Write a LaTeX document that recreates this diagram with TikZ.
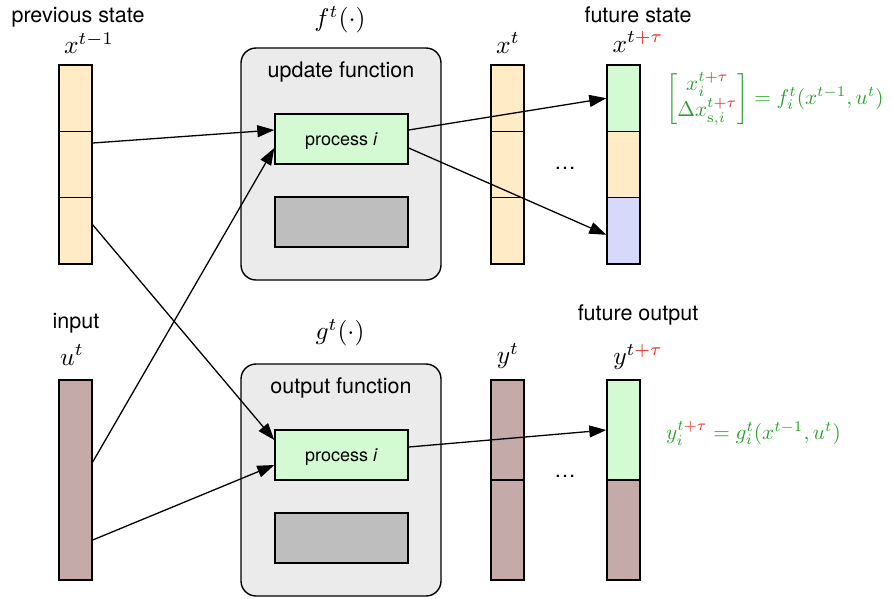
\documentclass[tikz,border=0pt]{standalone}
\usepackage{amsmath}
\usepackage[no-math]{fontspec}
\newfontfamily\hv{TeX Gyre Heros}
\usetikzlibrary{arrows.meta,calc}
\definecolor{corange}{HTML}{FFEBC6}
\definecolor{cgreen}{HTML}{D3FAD3}
\definecolor{cblue}{HTML}{D7D9FA}
\definecolor{cbrown}{HTML}{C4AAA9}
\definecolor{cpanel}{HTML}{EBEBEB}
\definecolor{cgray}{HTML}{BEBEBE}
\definecolor{tgreen}{HTML}{2CA02C}
\definecolor{tred}{HTML}{E8281E}
\newcommand{\rt}{{\color{tred}+\tau}}
\newcommand{\bigmath}[1]{\scalebox{2.55}{\normalsize$#1$}}
\newcommand{\eqmath}[1]{\scalebox{2.12}{\normalsize$#1$}}
\tikzset{
  cell/.style={draw, line width=1.4pt, minimum width=33pt, inner sep=0pt},
  panel/.style={draw, line width=1.4pt, fill=cpanel, rounded corners=15pt, minimum width=200pt, minimum height=232pt, inner sep=0pt},
  procbox/.style={draw, line width=1.4pt, fill=cgreen, minimum width=133pt, minimum height=50pt, inner sep=0pt, text depth=0pt, font=\hv\fontsize{18}{20}\selectfont},
  graybox/.style={draw, line width=1.4pt, fill=cgray, minimum width=133pt, minimum height=50pt, inner sep=0pt},
  lbl/.style={font=\hv\fontsize{21.5}{24}\selectfont, inner sep=0pt},
  mlbl/.style={inner sep=0pt},
  flow/.style={line width=1.3pt, -{Triangle[length=17pt,width=12pt]}},
  eq/.style={text=tgreen, inner sep=0pt}
}
\begin{document}
\begin{tikzpicture}[x=1pt,y=-1pt]
\useasboundingbox (0,0) rectangle (891,598);
% panels
\node[panel] (upd) at (341,164) {};
\node[panel] (out) at (341,480) {};
\node[lbl] (updl) at (341,72) {update function};
\node[lbl] (outl) at (341,388) {output function};
\node[procbox] (p1) at (341.5,139) {process \textit{i}};
\node[graybox] (g1) at (341.5,222) {};
\node[procbox] (p2) at (341.5,455) {process \textit{i}};
\node[graybox] (g2) at (341.5,538) {};
% previous state column
\node[cell, fill=corange, minimum height=66.33pt] (a1) at (75.5,98.2) {};
\node[cell, fill=corange, minimum height=66.33pt] (a2) at (75.5,164.5) {};
\node[cell, fill=corange, minimum height=66.33pt] (a3) at (75.5,230.8) {};
% x^t column
\node[cell, fill=corange, minimum height=66.33pt] (b1) at (507.5,98.2) {};
\node[cell, fill=corange, minimum height=66.33pt] (b2) at (507.5,164.5) {};
\node[cell, fill=corange, minimum height=66.33pt] (b3) at (507.5,230.8) {};
% future state column
\node[cell, fill=cgreen, minimum height=66.33pt] (c1) at (623.5,98.2) {};
\node[cell, fill=corange, minimum height=66.33pt] (c2) at (623.5,164.5) {};
\node[cell, fill=cblue, minimum height=66.33pt] (c3) at (623.5,230.8) {};
% input column
\node[cell, fill=cbrown, minimum height=200pt] (u) at (75.5,480) {};
% y^t column
\node[cell, fill=cbrown, minimum height=100pt] (d1) at (507.5,430) {};
\node[cell, fill=cbrown, minimum height=100pt] (d2) at (507.5,530) {};
% y future column
\node[cell, fill=cgreen, minimum height=100pt] (e1) at (623.5,430) {};
\node[cell, fill=cbrown, minimum height=100pt] (e2) at (623.5,530) {};
% dots
\node[lbl] (dots1) at (565,168) {\dots};
\node[lbl] (dots2) at (565,476) {\dots};
% labels
\node[lbl] (prevl) at (78,17) {previous state};
\node[mlbl] (xtm1) at (89,43) {\bigmath{x^{t-1}}};
\node[mlbl] (fl) at (340,20) {\bigmath{f^t(\cdot)}};
\node[mlbl] (xt) at (508,43) {\bigmath{x^{t}}};
\node[lbl] (futl) at (638,15) {future state};
\node[mlbl] (xtt) at (638,42) {\bigmath{x^{t\rt}}};
\node[lbl] (inl) at (76,323) {input};
\node[mlbl] (ul) at (72,355) {\bigmath{u^{t}}};
\node[mlbl] (gl) at (340,333) {\bigmath{g^t(\cdot)}};
\node[mlbl] (yt) at (508,356) {\bigmath{y^{t}}};
\node[lbl] (futo) at (638,315) {future output};
\node[mlbl] (ytt) at (638,357) {\bigmath{y^{t\rt}}};
% equations
\node[eq, anchor=west] (eq1) at (666,99) {\eqmath{\begin{bmatrix} x_i^{t\rt}\\ \Delta x_{\mathrm{s},i}^{t\rt}\end{bmatrix} = f_i^t(x^{t-1},u^t)}};
\node[eq, anchor=west] (eq2) at (666,433) {\eqmath{y_i^{t\rt} = g_i^t(x^{t-1},u^t)}};
% arrows
\draw[flow] ([yshift=21.5pt]a2.east) -- ([yshift=9pt]p1.west);
\draw[flow] ([yshift=6pt]a3.east) -- ([yshift=15pt]p2.west);
\draw[flow] ([yshift=18pt]u.east) -- ([yshift=-9pt]p1.west);
\draw[flow] ([yshift=-60pt]u.east) -- ([yshift=-10pt]p2.west);
\draw[flow] ([yshift=9pt]p1.east) -- (c1.west);
\draw[flow] ([yshift=-9pt]p1.east) -- ([yshift=-4pt]c3.west);
\draw[flow] ([yshift=8pt]p2.east) -- (e1.west);
\end{tikzpicture}
\end{document}
